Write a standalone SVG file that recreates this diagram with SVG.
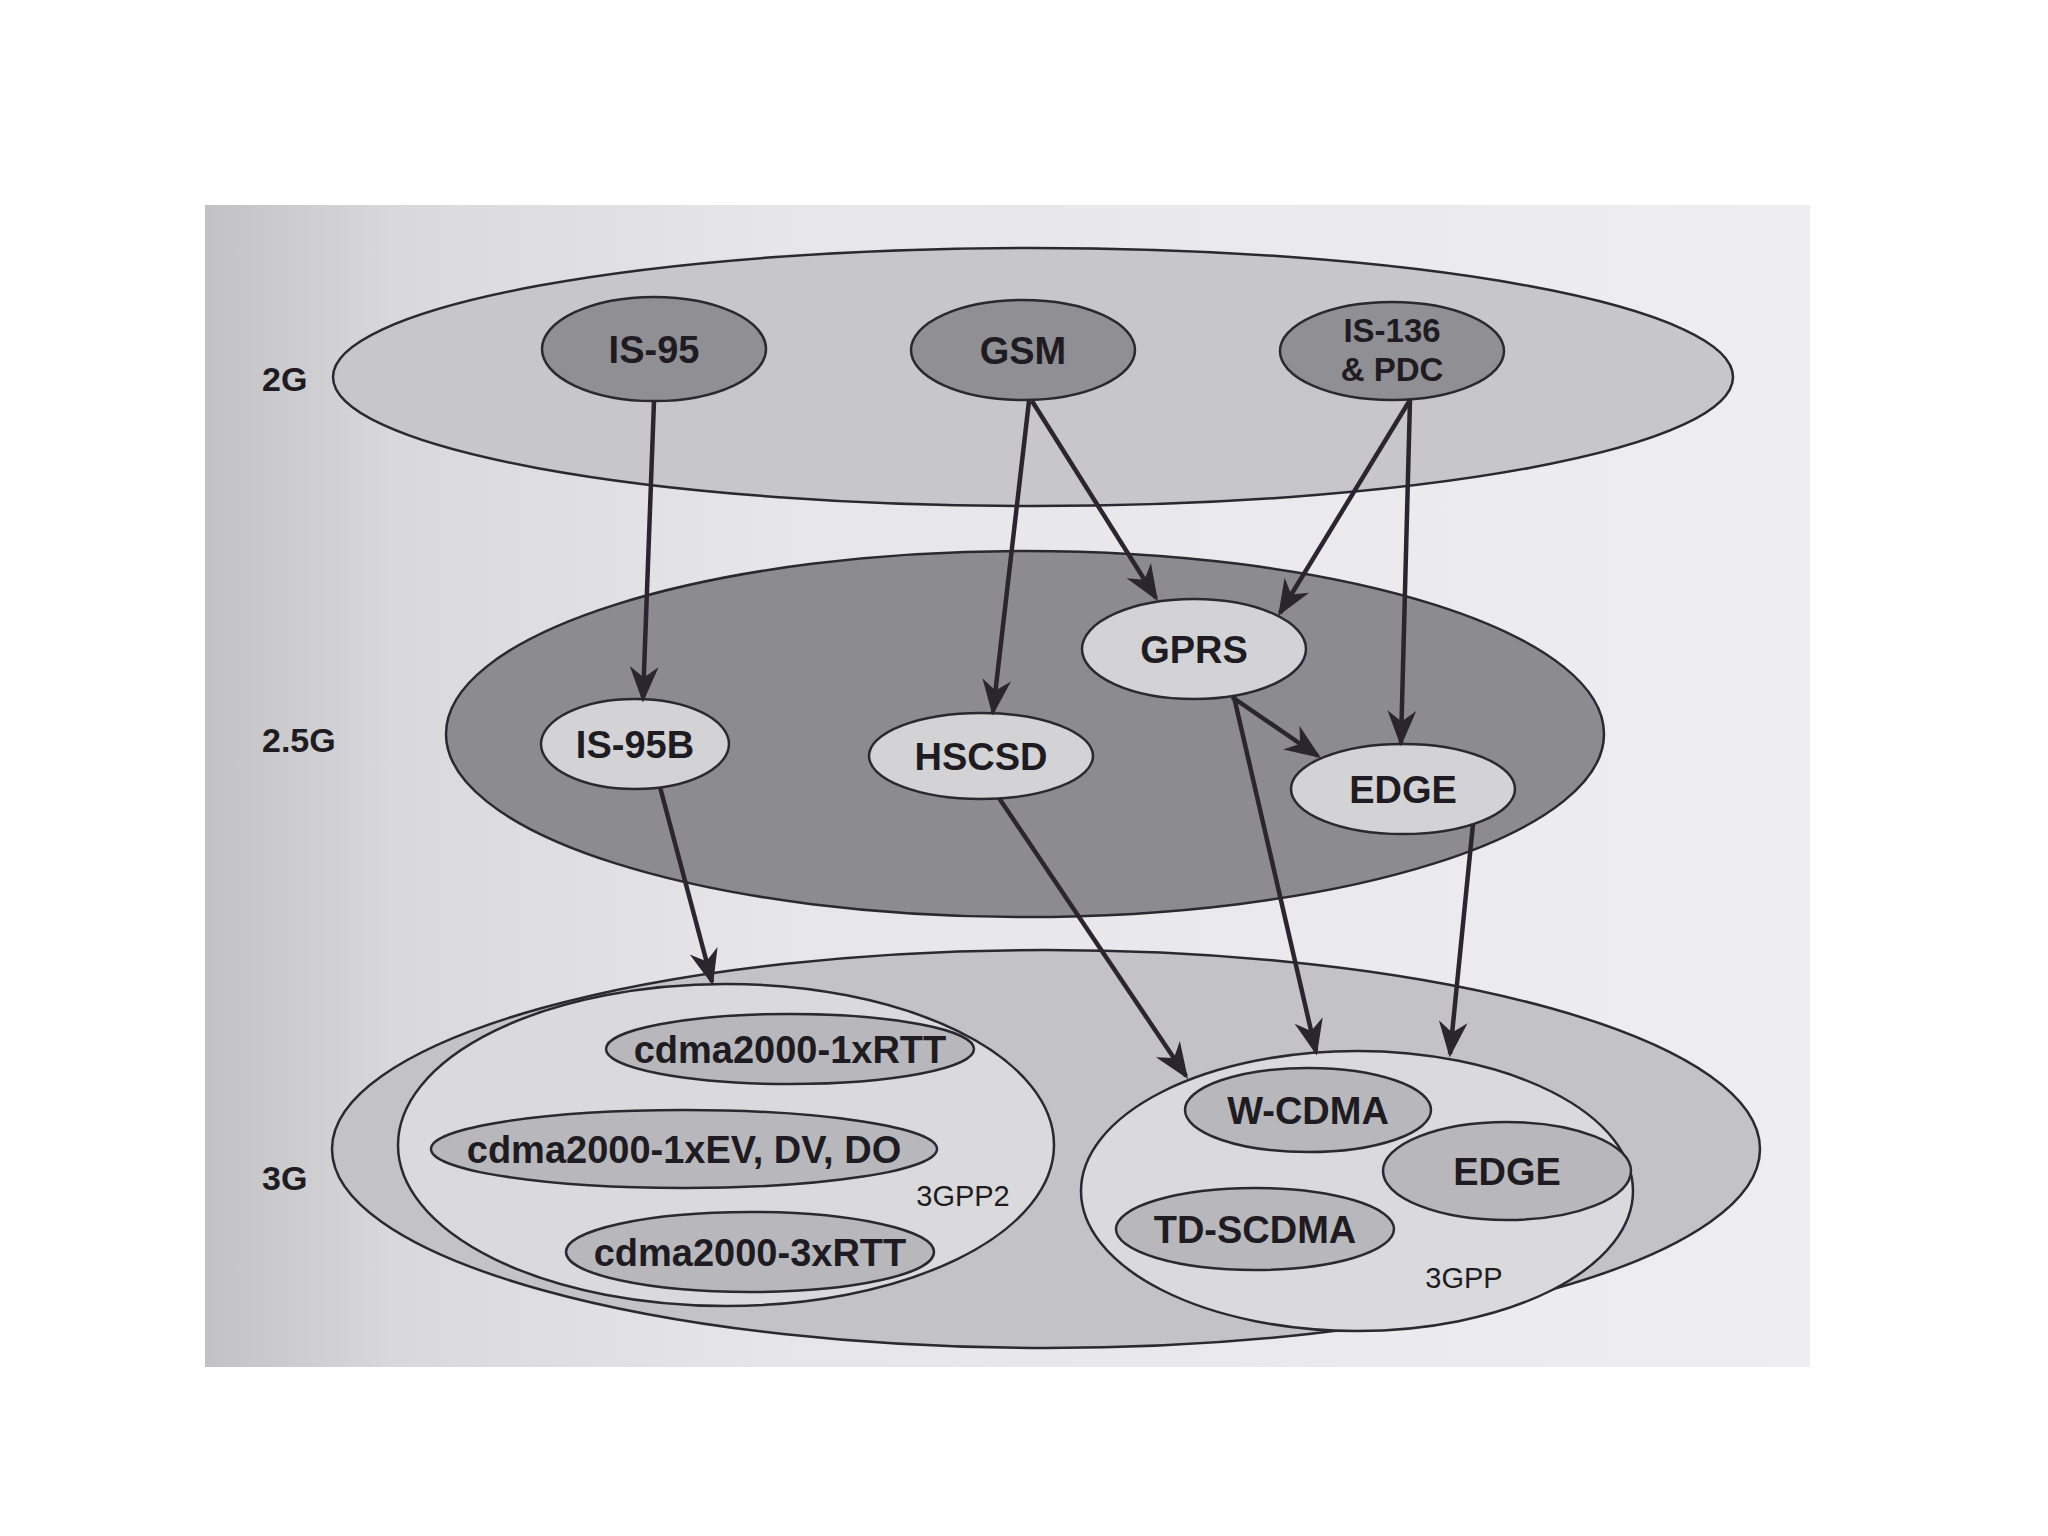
<svg xmlns="http://www.w3.org/2000/svg" width="2048" height="1536" viewBox="0 0 2048 1536">
<defs>
<linearGradient id="page" x1="0" y1="0" x2="1" y2="0">
<stop offset="0" stop-color="#c2c2c4"/>
<stop offset="0.12" stop-color="#d9d9db"/>
<stop offset="0.35" stop-color="#e6e6e9"/>
<stop offset="1" stop-color="#eeeef1"/>
</linearGradient>
<marker id="arr" viewBox="0 0 20 20" refX="18" refY="10" markerWidth="8" markerHeight="8" markerUnits="strokeWidth" orient="auto">
<path d="M0,2 L20,10 L0,18 L6,10 Z" fill="#2b2530"/>
</marker>
</defs>
<style>
.lbl{font-family:"Liberation Sans",Arial,sans-serif;font-weight:bold;fill:#1e1c22;text-anchor:middle}
.node{font-size:38px}
.tier{font-size:34px;text-anchor:start}
.small{font-family:"Liberation Sans",Arial,sans-serif;font-size:29px;fill:#1e1c22;text-anchor:middle}
.e{stroke:#2a2830;stroke-width:2.5}
.conn{stroke:#2b2530;stroke-width:4.5;fill:none;marker-end:url(#arr)}
</style>
<rect x="0" y="0" width="2048" height="1536" fill="#ffffff"/>
<rect x="205" y="205" width="1605" height="1162" fill="url(#page)"/>

<g id="tier-2g">
<ellipse class="e" cx="1033" cy="377" rx="700" ry="129" fill="#c7c7cb"/>
<text class="lbl tier" x="262" y="391">2G</text>
</g>
<g id="tier-25g">
<ellipse class="e" cx="1025" cy="734" rx="579" ry="183" fill="#8b8b90"/>
<text class="lbl tier" x="262" y="752">2.5G</text>
</g>
<g id="tier-3g">
<ellipse class="e" cx="1046" cy="1149" rx="714" ry="199" fill="#c3c3c7"/>
<text class="lbl tier" x="262" y="1190">3G</text>
</g>
<g id="group-3gpp2">
<ellipse class="e" cx="726" cy="1145" rx="328" ry="161" fill="#dadadd"/>
<text class="small" x="963" y="1206">3GPP2</text>
</g>
<g id="group-3gpp">
<ellipse class="e" cx="1357" cy="1191" rx="276" ry="140" fill="#dadadd"/>
<text class="small" x="1464" y="1288">3GPP</text>
</g>

<g id="n-is95">
<ellipse class="e" cx="654" cy="349" rx="112" ry="52" fill="#8f8f94"/>
<text class="lbl node" x="654" y="363">IS-95</text>
</g>
<g id="n-gsm">
<ellipse class="e" cx="1023" cy="350" rx="112" ry="50" fill="#8f8f94"/>
<text class="lbl node" x="1023" y="364">GSM</text>
</g>
<g id="n-is136">
<ellipse class="e" cx="1392" cy="351" rx="112" ry="49" fill="#8f8f94"/>
<text class="lbl" x="1392" y="342" font-size="33">IS-136</text>
<text class="lbl" x="1392" y="381" font-size="33">&amp; PDC</text>
</g>

<g id="n-gprs">
<ellipse class="e" cx="1194" cy="649" rx="112" ry="50" fill="#d3d3d6"/>
<text class="lbl node" x="1194" y="663">GPRS</text>
</g>
<g id="n-is95b">
<ellipse class="e" cx="635" cy="744" rx="94" ry="45" fill="#d3d3d6"/>
<text class="lbl node" x="635" y="758">IS-95B</text>
</g>
<g id="n-hscsd">
<ellipse class="e" cx="981" cy="756" rx="112" ry="43" fill="#d3d3d6"/>
<text class="lbl node" x="981" y="770">HSCSD</text>
</g>
<g id="n-edge25">
<ellipse class="e" cx="1403" cy="789" rx="112" ry="45" fill="#d3d3d6"/>
<text class="lbl node" x="1403" y="803">EDGE</text>
</g>

<g id="n-1xrtt">
<ellipse class="e" cx="790" cy="1049" rx="184" ry="35" fill="#b8b8bc"/>
<text class="lbl node" x="790" y="1063">cdma2000-1xRTT</text>
</g>
<g id="n-1xev">
<ellipse class="e" cx="684" cy="1149" rx="253" ry="39" fill="#b8b8bc"/>
<text class="lbl node" x="684" y="1163">cdma2000-1xEV, DV, DO</text>
</g>
<g id="n-3xrtt">
<ellipse class="e" cx="750" cy="1252" rx="184" ry="40" fill="#b8b8bc"/>
<text class="lbl node" x="750" y="1266">cdma2000-3xRTT</text>
</g>
<g id="n-wcdma">
<ellipse class="e" cx="1308" cy="1110" rx="123" ry="42" fill="#b8b8bc"/>
<text class="lbl node" x="1308" y="1124">W-CDMA</text>
</g>
<g id="n-edge3g">
<ellipse class="e" cx="1507" cy="1171" rx="124" ry="49" fill="#b8b8bc"/>
<text class="lbl node" x="1507" y="1185">EDGE</text>
</g>
<g id="n-tdscdma">
<ellipse class="e" cx="1255" cy="1229" rx="139" ry="41" fill="#b8b8bc"/>
<text class="lbl node" x="1255" y="1243">TD-SCDMA</text>
</g>

<g id="connectors">
<line class="conn" x1="654" y1="401" x2="643" y2="699"/>
<line class="conn" x1="1029" y1="401" x2="993" y2="712"/>
<line class="conn" x1="1032" y1="401" x2="1156" y2="598"/>
<line class="conn" x1="1410" y1="400" x2="1280" y2="613"/>
<line class="conn" x1="1410" y1="400" x2="1401" y2="743"/>
<line class="conn" x1="1232" y1="697" x2="1318" y2="756"/>
<line class="conn" x1="1234" y1="697" x2="1316" y2="1052"/>
<line class="conn" x1="1473" y1="824" x2="1450" y2="1054"/>
<line class="conn" x1="999" y1="798" x2="1186" y2="1076"/>
<line class="conn" x1="660" y1="787" x2="712" y2="982"/>
</g>
</svg>
